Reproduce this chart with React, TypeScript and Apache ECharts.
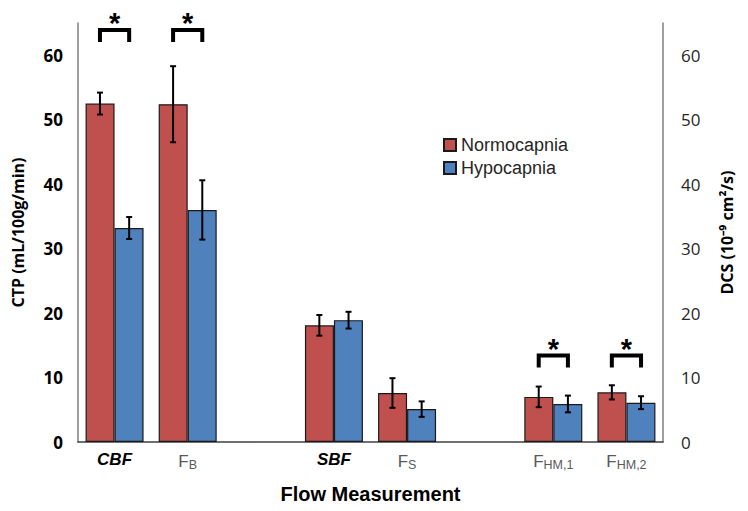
import React, { useEffect, useRef } from "react";
import * as echarts from "echarts";

const categories = ["CBF", "FB", "gap1", "SBF", "FS", "gap2", "FHM1", "FHM2"];
const categoryLabels = ["{bi|CBF}", "{n|F}{s|B}", "", "{bi|SBF}", "{n|F}{s|S}", "", "{n|F}{s|HM,1}", "{n|F}{s|HM,2}"];
const normoValues = [52.5, 52.4, null, 18.1, 7.6, null, 7.0, 7.7];
const normoErrors = [1.7, 5.9, null, 1.6, 2.3, null, 1.6, 1.1];
const hypoValues = [33.2, 36.0, null, 18.9, 5.1, null, 5.9, 6.1];
const hypoErrors = [1.7, 4.6, null, 1.3, 1.2, null, 1.3, 1.0];
const sigCategories = [0, 1, 6, 7];
const sigBracketTop = [63.9, 63.9, 13.4, 13.4];
const seriesNames = ["Normocapnia", "Hypocapnia"];

const RED = "#C0504D";
const BLUE = "#4F81BD";
const HALF = 14.6;

function errData(vals: (number | null)[], errs: (number | null)[]) {
  const out: number[][] = [];
  vals.forEach((v, i) => {
    if (v != null && errs[i] != null) out.push([i, v - (errs[i] as number), v + (errs[i] as number)]);
  });
  return out;
}

function errRender(offset: number) {
  return (params: any, api: any) => {
    const c = api.value(0);
    const lo = api.coord([c, api.value(1)]);
    const hi = api.coord([c, api.value(2)]);
    const x = lo[0] + offset;
    const st = { stroke: "#000", lineWidth: 2 };
    return {
      type: "group",
      children: [
        { type: "line", shape: { x1: x, y1: hi[1], x2: x, y2: lo[1] }, style: st },
        { type: "line", shape: { x1: x - 3, y1: hi[1], x2: x + 3, y2: hi[1] }, style: st },
        { type: "line", shape: { x1: x - 3, y1: lo[1], x2: x + 3, y2: lo[1] }, style: st },
      ],
    };
  };
}

export default function App() {
  const ref = useRef<HTMLDivElement>(null);
  useEffect(() => {
    if (!ref.current) return;
    const chart = echarts.init(ref.current, null, { renderer: "svg" });
    const barStyleBase = { borderColor: "#1a1a1a", borderWidth: 1.2 };
    chart.setOption({
      animation: false,
      backgroundColor: "#fff",
      grid: { left: 78, right: 85, top: 23, bottom: 69, containLabel: false },
      legend: {
        orient: "vertical",
        left: 438,
        top: 130,
        itemWidth: 12,
        itemHeight: 12,
        itemGap: 3,
        icon: "rect",
        data: seriesNames,
        textStyle: { fontFamily: "Liberation Sans", fontSize: 18, color: "#262626", lineHeight: 20 },
      },
      xAxis: {
        type: "category",
        data: categories,
        axisTick: { show: false },
        axisLine: { lineStyle: { color: "#404040", width: 1.5 } },
        axisLabel: {
          interval: 0,
          margin: 9,
          formatter: (v: string) => categoryLabels[categories.indexOf(v)],
          rich: {
            bi: { fontFamily: "Liberation Sans", fontSize: 17, fontWeight: "bold", fontStyle: "italic", color: "#000" },
            n: { fontFamily: "Liberation Sans", fontSize: 17, color: "#595959" },
            s: { fontFamily: "Liberation Sans", fontSize: 12.5, color: "#595959", padding: [7, 0, 0, 0] },
          },
        },
        name: "Flow Measurement",
        nameLocation: "middle",
        nameGap: 42,
        nameTextStyle: { fontFamily: "Liberation Sans", fontSize: 20, fontWeight: "bold", color: "#000" },
      },
      yAxis: [
        {
          type: "value",
          min: 0,
          max: 65,
          interval: 10,
          splitLine: { show: false },
          axisTick: { show: false },
          axisLine: { show: true, lineStyle: { color: "#7f7f7f", width: 1.5 } },
          axisLabel: { showMaxLabel: false, fontFamily: "Open Sans", fontSize: 17, fontWeight: "bold", color: "#000", margin: 15 },
          name: "CTP (mL/100g/min)",
          nameLocation: "middle",
          nameGap: 52,
          nameTextStyle: { fontFamily: "Open Sans", fontSize: 16, fontWeight: "bold", color: "#000" },
        },
        {
          type: "value",
          min: 0,
          max: 65,
          interval: 10,
          position: "right",
          splitLine: { show: false },
          axisTick: { show: false },
          axisLine: { show: true, lineStyle: { color: "#7f7f7f", width: 1.5 } },
          axisLabel: { showMaxLabel: false, fontFamily: "Open Sans", fontSize: 17, color: "#262626", margin: 18 },
          name: "DCS (10⁻⁹ cm²/s)",
          nameLocation: "middle",
          nameGap: 56,
          nameTextStyle: { fontFamily: "Open Sans", fontSize: 16, fontWeight: "bold", color: "#000" },
        },
      ],
      series: [
        {
          name: seriesNames[0],
          type: "bar",
          data: normoValues.map((v) => (v == null ? "-" : v)),
          barWidth: 29,
          barGap: "0%",
          itemStyle: { color: RED, ...barStyleBase },
        },
        {
          name: seriesNames[1],
          type: "bar",
          data: hypoValues.map((v) => (v == null ? "-" : v)),
          barWidth: 29,
          barGap: "0%",
          itemStyle: { color: BLUE, ...barStyleBase },
        },
        {
          type: "custom",
          z: 5,
          encode: { x: 0, y: [1, 2] },
          data: errData(normoValues, normoErrors),
          renderItem: errRender(-HALF),
          silent: true,
        },
        {
          type: "custom",
          z: 5,
          encode: { x: 0, y: [1, 2] },
          data: errData(hypoValues, hypoErrors),
          renderItem: errRender(HALF),
          silent: true,
        },
        {
          type: "custom",
          z: 5,
          clip: false,
          encode: { x: 0, y: 1 },
          data: sigCategories.map((c, i) => [c, sigBracketTop[i]]),
          renderItem: (params: any, api: any) => {
            const p = api.coord([api.value(0), api.value(1)]);
            const x1 = p[0] - HALF;
            const x2 = p[0] + HALF;
            return {
              type: "group",
              children: [
                {
                  type: "polyline",
                  shape: { points: [[x1, p[1] + 12], [x1, p[1]], [x2, p[1]], [x2, p[1] + 12]] },
                  style: { stroke: "#000", lineWidth: 4, fill: "none", lineJoin: "miter" },
                },
                {
                  type: "text",
                  x: p[0],
                  y: p[1] - 7,
                  style: {
                    text: "*",
                    fontFamily: "Liberation Sans",
                    fontSize: 29,
                    fontWeight: "bold",
                    fill: "#000",
                    align: "center",
                    verticalAlign: "middle",
                  },
                },
              ],
            };
          },
          silent: true,
        },
      ],
    });
    return () => chart.dispose();
  }, []);
  return <div ref={ref} style={{ width: 748, height: 511, position: "absolute", left: 0, top: 0 }} />;
}
